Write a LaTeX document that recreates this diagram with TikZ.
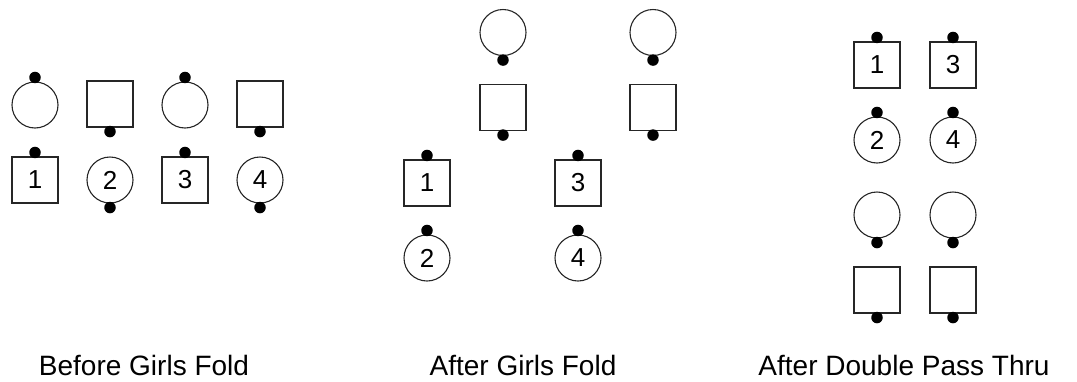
\documentclass[tikz,border=0pt]{standalone}
\usepackage{fontspec}
\setmainfont{Liberation Sans}
\begin{document}
\begin{tikzpicture}[x=1pt,y=-1pt,
  shp/.style={draw=black!85,line width=1.1pt,minimum size=46pt,inner sep=0pt,
    font=\fontsize{26}{30}\selectfont},
  circ/.style={shp,circle},
  sq/.style={shp,rectangle},
  dot/.style={circle,fill=black,minimum size=11.5pt,inner sep=0pt},
  lbl/.style={anchor=base,font=\fontsize{28}{34}\selectfont}]
\useasboundingbox (0,0) rectangle (1077,381);
\newcommand{\dn}[2]{\node[dot] (#1d) at ([yshift=-4pt]#1.south) {};}
\newcommand{\up}[1]{\node[dot] (#1d) at ([yshift=4pt]#1.north) {};}
% Section 1: Before Girls Fold
\node[circ] (a1) at (35,105) {};   \up{a1}
\node[sq]   (a2) at (110,104) {};  \dn{a2}{}
\node[circ] (a3) at (185,105) {};  \up{a3}
\node[sq]   (a4) at (260,104) {};  \dn{a4}{}
\node[sq]   (b1) at (35,180) {1};  \up{b1}
\node[circ] (b2) at (110,180) {2}; \dn{b2}{}
\node[sq]   (b3) at (185,180) {3}; \up{b3}
\node[circ] (b4) at (260,180) {4}; \dn{b4}{}
% Section 2: After Girls Fold
\node[circ] (c1) at (503,32.5) {};  \dn{c1}{}
\node[sq]   (c2) at (503,107.5) {}; \dn{c2}{}
\node[circ] (c3) at (653,32.5) {};  \dn{c3}{}
\node[sq]   (c4) at (653,107.5) {}; \dn{c4}{}
\node[sq]   (d1) at (427,183) {1};  \up{d1}
\node[circ] (d2) at (427,258) {2};  \up{d2}
\node[sq]   (d3) at (578,183) {3};  \up{d3}
\node[circ] (d4) at (578,258) {4};  \up{d4}
% Section 3: After Double Pass Thru
\node[sq]   (e1) at (877,65) {1};  \up{e1}
\node[sq]   (e3) at (953,65) {3};  \up{e3}
\node[circ] (e2) at (877,140) {2}; \up{e2}
\node[circ] (e4) at (953,140) {4}; \up{e4}
\node[circ] (f1) at (877,215) {};  \dn{f1}{}
\node[circ] (f2) at (953,215) {};  \dn{f2}{}
\node[sq]   (g1) at (877,290) {};  \dn{g1}{}
\node[sq]   (g2) at (953,290) {};  \dn{g2}{}
% Labels
\node[lbl] (l1) at (144,375) {Before Girls Fold};
\node[lbl] (l2) at (523,375) {After Girls Fold};
\node[lbl] (l3) at (904,375) {After Double Pass Thru};
\end{tikzpicture}
\end{document}
